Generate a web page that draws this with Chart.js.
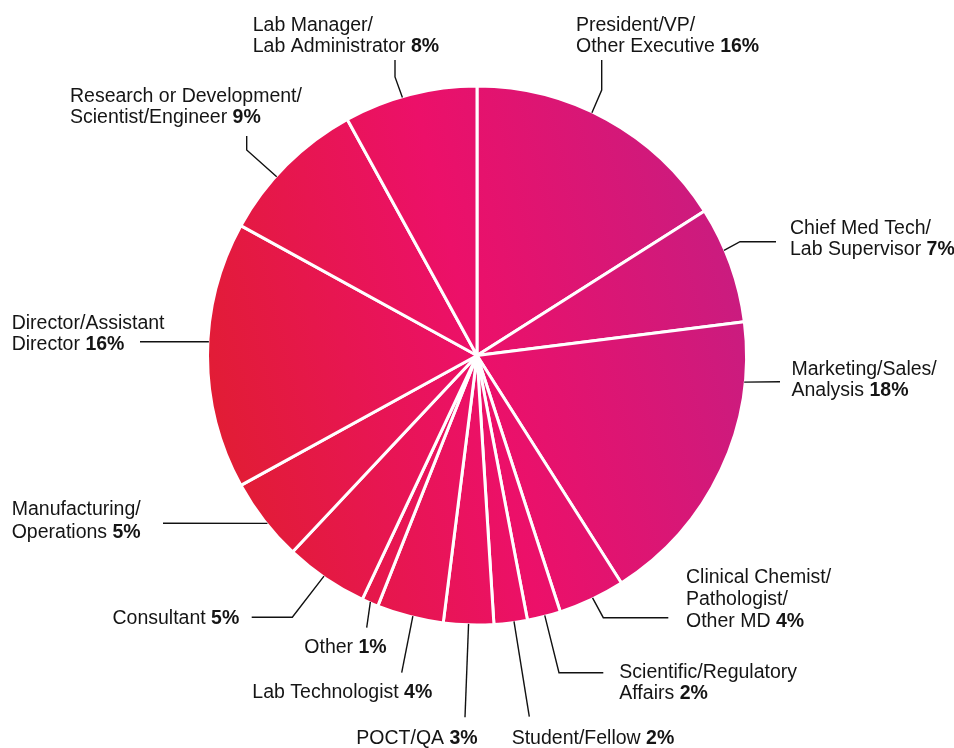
<!DOCTYPE html>
<html><head><meta charset="utf-8">
<script src="https://cdn.jsdelivr.net/npm/chart.js@4/dist/chart.umd.min.js"></script>
<style>html,body{margin:0;padding:0;background:#fff;overflow:hidden}#wrap{width:954px;height:748px;position:relative}</style>
</head><body><div id="wrap"><canvas id="c" width="954" height="748"></canvas></div>
<script>
// ---- data ----
const categories = [
  "President/VP/Other Executive", "Chief Med Tech/Lab Supervisor", "Marketing/Sales/Analysis",
  "Clinical Chemist/Pathologist/Other MD", "Scientific/Regulatory Affairs", "Student/Fellow",
  "POCT/QA", "Lab Technologist", "Other", "Consultant", "Manufacturing/Operations",
  "Director/Assistant Director", "Research or Development/Scientist/Engineer", "Lab Manager/Lab Administrator"
];
const labelLines = [
  ["President/VP/", "Other Executive"],
  ["Chief Med Tech/", "Lab Supervisor"],
  ["Marketing/Sales/", "Analysis"],
  ["Clinical Chemist/", "Pathologist/", "Other MD"],
  ["Scientific/Regulatory", "Affairs"],
  ["Student/Fellow"],
  ["POCT/QA"],
  ["Lab Technologist"],
  ["Other"],
  ["Consultant"],
  ["Manufacturing/", "Operations"],
  ["Director/Assistant", "Director"],
  ["Research or Development/", "Scientist/Engineer"],
  ["Lab Manager/", "Lab Administrator"]
];
const shares = [16, 7, 18, 4, 2, 2, 3, 4, 1, 5, 5, 16, 9, 8];
const pctLabels = shares.map(v => v + "%");

// ---- label layout (positions of annotation text and leader elbows) ----
const labelLayout = [
  {x: 576,   base: [31, 52],        align: "left",  frac: 0.44, path: [[601.7, 90], [601.7, 60]]},
  {x: 790,   base: [234, 255],      align: "left",  frac: 0.37, path: [[740, 241.7], [776, 241.7]]},
  {x: 791.5, base: [375, 396],      align: "left",  frac: 0.199, path: [[780, 381.7]]},
  {x: 686,   base: [583, 605, 627], align: "left",  frac: 0.48, path: [[603.3, 617.7], [668.3, 617.7]]},
  {x: 619.3, base: [678, 699],      align: "left",  frac: 0.47, path: [[559, 672.7], [603.3, 672.7]]},
  {x: 511.7, base: [744],           align: "left",  frac: 0.40, path: [[529.3, 716.7]]},
  {x: 477.7, base: [744],           align: "right", frac: 0.50, path: [[465, 717.3]]},
  {x: 432.3, base: [698],           align: "right", frac: 0.46, path: [[401.7, 672.7]]},
  {x: 386.7, base: [652.7],         align: "right", frac: 0.50, path: [[366.7, 627.7]]},
  {x: 239.3, base: [624],           align: "right", frac: 0.53, path: [[292.3, 617.3], [251.7, 617.3]]},
  {x: 11.7,  base: [515, 538],      align: "left",  frac: 0.45, path: [[163, 523.3]]},
  {x: 11.7,  base: [329, 350],      align: "left",  frac: 0.551, path: [[140, 341.7]]},
  {x: 70,    base: [102, 123],      align: "left",  frac: 0.40, path: [[246.7, 150], [246.7, 136]]},
  {x: 252.7, base: [31, 52],        align: "left",  frac: 0.44, path: [[395, 77], [395, 60]]}
];

const FONT_FAMILY = '"Liberation Sans", Arial, sans-serif';
const FONT_SIZE = 19.5;

let grad = null;
function pieGradient(ctx) {
  const chart = ctx.chart;
  const a = chart.chartArea;
  if (!a) return "#e8136a";
  if (!grad) {
    const g = chart.ctx.createLinearGradient(a.left, a.top + a.height * 0.62, a.right, a.top + a.height * 0.38);
    g.addColorStop(0, "#e11d33");
    g.addColorStop(0.5, "#ec1069");
    g.addColorStop(1, "#c91c80");
    grad = g;
  }
  return grad;
}

const labelPlugin = {
  id: "leaderLabels",
  afterDatasetsDraw(chart) {
    const ctx = chart.ctx;
    const meta = chart.getDatasetMeta(0);
    ctx.save();
    meta.data.forEach((arc, i) => {
      const L = labelLayout[i];
      const p = arc.getProps(["x", "y", "startAngle", "endAngle", "outerRadius"], true);
      const ang = p.startAngle + L.frac * (p.endAngle - p.startAngle);
      const sx = p.x + Math.cos(ang) * (p.outerRadius - 1);
      const sy = p.y + Math.sin(ang) * (p.outerRadius - 1);
      ctx.beginPath();
      ctx.moveTo(sx, sy);
      L.path.forEach(pt => ctx.lineTo(pt[0], pt[1]));
      ctx.strokeStyle = "#111";
      ctx.lineWidth = 1.4;
      ctx.lineJoin = "miter";
      ctx.stroke();

      const lines = labelLines[i];
      ctx.fillStyle = "#151515";
      ctx.textBaseline = "alphabetic";
      ctx.textAlign = "left";
      lines.forEach((ln, k) => {
        const isLast = k === lines.length - 1;
        const normalFont = "400 " + FONT_SIZE + "px " + FONT_FAMILY;
        const boldFont = "700 " + FONT_SIZE + "px " + FONT_FAMILY;
        ctx.font = normalFont;
        const t = isLast ? ln + " " : ln;
        const w1 = ctx.measureText(t).width;
        let w2 = 0;
        if (isLast) { ctx.font = boldFont; w2 = ctx.measureText(pctLabels[i]).width; }
        const total = w1 + w2;
        const x0 = L.align === "right" ? L.x - total : L.x;
        ctx.font = normalFont;
        ctx.fillText(t, x0, L.base[k]);
        if (isLast) { ctx.font = boldFont; ctx.fillText(pctLabels[i], x0 + w1, L.base[k]); }
      });
    });
    ctx.restore();
  }
};

new Chart(document.getElementById("c"), {
  type: "pie",
  data: {
    labels: categories,
    datasets: [{
      data: shares,
      backgroundColor: pieGradient,
      borderColor: "#ffffff",
      borderWidth: 3,
      hoverOffset: 0
    }]
  },
  options: {
    responsive: false,
    animation: false,
    layout: {padding: {left: 206, right: 206, top: 84.5, bottom: 121.5}},
    plugins: {legend: {display: false}, tooltip: {enabled: false}}
  },
  plugins: [labelPlugin]
});
</script>
</body></html>
